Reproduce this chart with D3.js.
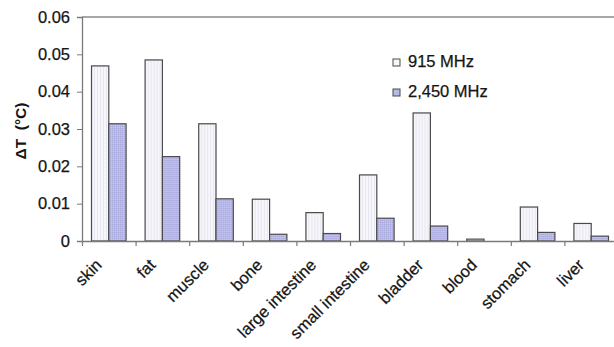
<!DOCTYPE html>
<html>
<head>
<meta charset="utf-8">
<script src="https://cdn.jsdelivr.net/npm/d3@7"></script>
<style>
  html, body { margin: 0; padding: 0; background: #fff; }
  svg { display: block; font-family: "Liberation Sans", Arial, sans-serif; }
</style>
</head>
<body>
<svg id="chart" width="614" height="347"></svg>
<script>
// Tissue temperature rise at two frequencies
const tissues = ["skin", "fat", "muscle", "bone", "large intestine", "small intestine",
                 "bladder", "blood", "stomach", "liver"];
const seriesNames = ["915 MHz", "2,450 MHz"];
const values915 = [0.0469, 0.0485, 0.0314, 0.0112, 0.0076, 0.0177, 0.0343, 0.0005, 0.0091, 0.0047];
const values2450 = [0.0314, 0.0226, 0.0113, 0.0018, 0.0020, 0.0061, 0.0040, 0.0000, 0.0023, 0.0013];
const yTicks = [0, 0.01, 0.02, 0.03, 0.04, 0.05, 0.06];
const yTitle = "\u0394T  (\u00B0C)";

const svg = d3.select("#chart");
const margin = { left: 82, top: 17, bottom: 241, right: 618 };
const textColor = "#151515";
const fontSize = 16.5;

// Fill patterns: pale bars with faint vertical hatching, violet bars with fine grain
const defs = svg.append("defs");
const pLight = defs.append("pattern").attr("id", "pLight")
  .attr("patternUnits", "userSpaceOnUse").attr("width", 3).attr("height", 3);
pLight.append("rect").attr("width", 3).attr("height", 3).attr("fill", "#f6f6fb");
pLight.append("rect").attr("x", 0).attr("width", 1).attr("height", 3).attr("fill", "#e6e6ef");

const pViolet = defs.append("pattern").attr("id", "pViolet")
  .attr("patternUnits", "userSpaceOnUse").attr("width", 2).attr("height", 2);
pViolet.append("rect").attr("width", 2).attr("height", 2).attr("fill", "#b9b9e9");
pViolet.append("rect").attr("x", 0).attr("y", 0).attr("width", 1).attr("height", 1).attr("fill", "#a9a9dc");
pViolet.append("rect").attr("x", 1).attr("y", 1).attr("width", 1).attr("height", 1).attr("fill", "#c4c4ee");

const fills = ["url(#pLight)", "url(#pViolet)"];
const legendFills = ["#f6f6fb", "#b9b9e9"];

const x = d3.scaleBand().domain(tissues).range([margin.left, margin.right]).padding(0);
const x1 = d3.scaleBand().domain(seriesNames).range([0, x.bandwidth()]).paddingInner(0).paddingOuter(0.55);
const y = d3.scaleLinear().domain([0, 0.06]).range([margin.bottom, margin.top]);

// Top frame line of the plot area
svg.append("line")
  .attr("x1", margin.left).attr("x2", 614)
  .attr("y1", y(0.06)).attr("y2", y(0.06))
  .attr("stroke", "#8a8a8a").attr("stroke-width", 1.5);

// Bars
const rows = tissues.map((t, i) => ({ tissue: t, vals: [values915[i], values2450[i]] }));
const groups = svg.append("g").selectAll("g").data(rows).join("g")
  .attr("transform", d => `translate(${x(d.tissue)},0)`);
groups.selectAll("rect")
  .data(d => d.vals.map((v, k) => ({ v, k })).filter(e => e.v > 0))
  .join("rect")
  .attr("x", e => x1(seriesNames[e.k]))
  .attr("width", x1.bandwidth())
  .attr("y", e => y(e.v))
  .attr("height", e => y(0) - y(e.v))
  .attr("fill", e => fills[e.k])
  .attr("stroke", "#4a4a4a")
  .attr("stroke-width", 1.2);

// Y axis
const yAxis = svg.append("g")
  .attr("transform", `translate(${margin.left},0)`)
  .call(d3.axisLeft(y).tickValues(yTicks).tickSize(5).tickPadding(7)
    .tickFormat(d => d === 0 ? "0" : d3.format(".2f")(d)));
yAxis.select(".domain").attr("stroke", "#7a7a7a").attr("stroke-width", 1.3);
yAxis.selectAll(".tick line").attr("stroke", "#7a7a7a");
yAxis.selectAll("text").attr("font-size", fontSize).attr("fill", textColor)
  .attr("stroke", textColor).attr("stroke-width", 0.25)
  .attr("font-family", "Liberation Sans, Arial, sans-serif");

// X axis: ticks on category boundaries
const xAxis = svg.append("g")
  .attr("transform", `translate(0,${y(0)})`)
  .call(d3.axisBottom(x).tickSize(0).tickFormat(""));
xAxis.select(".domain").attr("stroke", "#7a7a7a").attr("stroke-width", 1.3);
svg.append("g").selectAll("line")
  .data(tissues)
  .join("line")
  .attr("x1", d => x(d) + 0.5).attr("x2", d => x(d) + 0.5)
  .attr("y1", y(0)).attr("y2", y(0) + 5)
  .attr("stroke", "#7a7a7a").attr("stroke-width", 1.2);

// Slanted category labels
svg.append("g").selectAll("text")
  .data(tissues)
  .join("text")
  .attr("transform", d => `translate(${x(d) + x.bandwidth() / 2 - 6},${y(0) + 25}) rotate(-45)`)
  .attr("text-anchor", "end")
  .attr("font-size", fontSize)
  .attr("fill", textColor)
  .attr("stroke", textColor).attr("stroke-width", 0.25)
  .text(d => d);

// Y axis title
svg.append("text")
  .attr("transform", `translate(26,${131}) rotate(-90)`)
  .attr("text-anchor", "middle")
  .attr("font-size", 15.5)
  .attr("font-weight", "bold")
  .attr("fill", textColor)
  .attr("xml:space", "preserve")
  .style("white-space", "pre")
  .text(yTitle);

// Legend
const legend = svg.append("g").attr("transform", "translate(393,0)");
const legendBase = [67, 97];
seriesNames.forEach((name, k) => {
  legend.append("rect")
    .attr("x", 0).attr("y", legendBase[k] - 8)
    .attr("width", 7).attr("height", 7)
    .attr("fill", legendFills[k]).attr("stroke", "#4a4a4a").attr("stroke-width", 1);
  legend.append("text")
    .attr("x", 15).attr("y", legendBase[k])
    .attr("font-size", fontSize).attr("fill", textColor)
    .attr("stroke", textColor).attr("stroke-width", 0.25)
    .text(name);
});
</script>
</body>
</html>
